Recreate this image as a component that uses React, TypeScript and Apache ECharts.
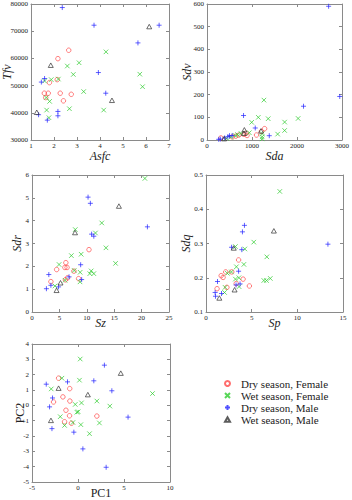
import React, { useEffect, useRef } from "react";
import * as echarts from "echarts";

// ---- Data ----
const groupNames = ["Dry season, Female", "Wet season, Female", "Dry season, Male", "Wet season, Male"];

// Panel 1: Asfc (x) vs Tfv (y)
const asfcTfvDryFemale = [[2.17, 59900], [2.64, 63000], [1.8, 51100], [2.14, 52200], [1.58, 47200], [1.75, 47200], [2.27, 47200], [2.75, 46800], [1.64, 45600], [2.41, 44400]];
const asfcTfvWetFemale = [[4.26, 62400], [2.58, 57200], [3.09, 58400], [2.84, 54100], [1.59, 51700], [1.88, 52200], [2.19, 52400], [3.29, 47800], [1.66, 45600], [1.81, 44200], [2.67, 41500], [4.16, 41000], [1.68, 41000], [1.78, 38200], [5.73, 54200], [5.85, 49600]];
const asfcTfvDryMale = [[2.36, 78700], [3.74, 72200], [6.57, 72200], [5.65, 65700], [3.93, 54800], [1.59, 52600], [1.45, 51300], [4.25, 47200], [1.33, 39300], [2.17, 40500], [2.17, 38900], [1.71, 37300]];
const asfcTfvWetMale = [[1.86, 57500], [6.14, 71700], [4.52, 44600], [1.25, 40200]];

// Panel 2: Sda (x) vs Sdv (y)
const sdaSdvDryFemale = [[1280, 50], [1210, 38], [1100, 22], [870, 30], [890, 20], [710, 22], [560, 14], [640, 17], [310, 9], [820, 25]];
const sdaSdvWetFemale = [[1265, 176], [1140, 100], [1360, 94], [2025, 95], [993, 78], [1725, 79], [1725, 42], [1570, 26], [1225, 28], [1225, 14], [940, 32], [755, 29], [625, 20], [435, 7], [680, 24], [1225, 5], [530, 12]];
const sdaSdvDryMale = [[2703, 590], [2950, 192], [2145, 149], [812, 108], [1072, 53], [1384, 19], [464, 15], [500, 19], [391, 9], [261, 3], [297, 4], [560, 20]];
const sdaSdvWetMale = [[1200, 40], [830, 45], [820, 30], [380, 6]];

// Panel 3: Sz (x) vs Sdr (y)
const szSdrDryFemale = [[10.4, 2.73], [6.18, 2.16], [6.0, 1.95], [6.4, 1.95], [4.5, 1.86], [7.65, 1.79], [6.5, 1.5], [8.5, 1.46], [6.1, 1.41], [3.45, 1.33]];
const szSdrWetFemale = [[20.6, 5.85], [12.73, 3.9], [7.9, 3.61], [11.58, 3.46], [13.5, 2.81], [8.97, 2.53], [7.18, 2.47], [15.25, 2.13], [4.94, 2.08], [7.7, 1.82], [8.79, 1.74], [10.8, 1.8], [10.55, 1.68], [11.28, 1.68], [6.03, 1.39], [8.76, 1.32], [4.19, 1.14]];
const szSdrDryMale = [[10.23, 5.03], [10.65, 4.76], [21.06, 3.73], [10.88, 3.41], [11.28, 3.32], [8.88, 2.07], [3.07, 1.64], [6.76, 1.54], [9.06, 1.42], [3.45, 1.17], [4.85, 1.1], [2.63, 1.02]];
const szSdrWetMale = [[15.86, 4.64], [7.85, 3.48], [5.2, 1.28], [4.48, 0.95]];

// Panel 4: Sp (x) vs Sdq (y)
const spSdqDryFemale = [[3.57, 0.252], [2.16, 0.217], [2.82, 0.217], [1.66, 0.206], [1.87, 0.201], [4.06, 0.196], [3.31, 0.183], [4.75, 0.176], [2.29, 0.172], [1.21, 0.168]];
const spSdqWetFemale = [[8.08, 0.452], [5.23, 0.304], [3.22, 0.291], [4.25, 0.284], [6.66, 0.261], [4.15, 0.239], [3.33, 0.232], [2.78, 0.217], [2.34, 0.213], [3.6, 0.2], [3.22, 0.196], [6.33, 0.192], [6.62, 0.192], [7.04, 0.198], [3.62, 0.174], [2.09, 0.172], [2.03, 0.157]];
const spSdqDryMale = [[4.21, 0.353], [3.99, 0.334], [13.35, 0.298], [2.8, 0.289], [3.92, 0.282], [3.57, 0.219], [1.26, 0.189], [3.29, 0.179], [3.73, 0.182], [1.0, 0.157], [1.7, 0.154], [1.04, 0.146]];
const spSdqWetMale = [[7.43, 0.337], [3.04, 0.287], [3.13, 0.165], [1.46, 0.141]];

// Panel 5: PC1 (x) vs PC2 (y)
const pcDryFemale = [[-2.11, 1.77], [-0.9, 1.09], [-1.64, 0.55], [-0.88, 0.28], [-2.66, 0.22], [-1.31, -0.32], [-0.92, -0.68], [2.05, -0.7], [-1.46, -1.07], [-0.72, -1.17]];
const pcWetFemale = [[0.24, 3.02], [-1.75, 1.77], [0.16, 1.64], [-2.91, 1.07], [8.1, 0.77], [2.05, 0.28], [0.38, 0.16], [-0.3, 0.06], [3.46, -0.05], [-0.12, -0.45], [0.02, -0.42], [-1.93, -0.74], [-0.55, -1.12], [2.33, -1.15], [-1.46, -1.31], [0.31, -1.26], [1.25, -1.85]];
const pcDryMale = [[2.87, 2.62], [-1.14, 1.53], [1.72, 1.6], [-3.45, 1.38], [3.68, 0.95], [-2.77, 0.48], [-3.09, -0.1], [5.44, -0.77], [-2.83, -1.52], [-0.45, -1.75], [0.53, -2.84], [3.06, -4.04]];
const pcWetMale = [[4.65, 2.1], [-2.11, 1.12], [1.07, 0.7], [-2.94, -0.98]];

// Axis ranges / tick intervals
const xRanges = [[1, 7, 1], [0, 3000, 1000], [0, 25, 5], [0, 15, 5], [-5, 10, 5]];
const yRanges = [[30000, 80000, 10000], [0, 600, 100], [0, 6, 1], [0.1, 0.5, 0.1], [-5, 4, 1]];
const xNames = ["Asfc", "Sda", "Sz", "Sp", "PC1"];
const yNames = ["Tfv", "Sdv", "Sdr", "Sdq", "PC2"];

const panelData = [
  [asfcTfvDryFemale, asfcTfvWetFemale, asfcTfvDryMale, asfcTfvWetMale],
  [sdaSdvDryFemale, sdaSdvWetFemale, sdaSdvDryMale, sdaSdvWetMale],
  [szSdrDryFemale, szSdrWetFemale, szSdrDryMale, szSdrWetMale],
  [spSdqDryFemale, spSdqWetFemale, spSdqDryMale, spSdqWetMale],
  [pcDryFemale, pcWetFemale, pcDryMale, pcWetMale],
];

// ---- Layout / style ----
const grids = [
  { left: 31, top: 4, width: 138, height: 136 },
  { left: 207, top: 4, width: 138, height: 136 },
  { left: 32, top: 175, width: 137, height: 137 },
  { left: 206, top: 175, width: 137, height: 137 },
  { left: 32, top: 344, width: 138, height: 138 },
];
const xNameGaps = [10, 10, 5, 5, 5];
const yNameGaps = [18, 14, 9, 14, 6];
const SERIF = "Liberation Serif";
const FRAME = "#8a8a8a";

const groupStyles = [
  { symbol: "circle", symbolSize: 4.5, itemStyle: { color: "rgba(0,0,0,0)", borderColor: "#ff4a4a", borderWidth: 0.9 } },
  { symbol: "path://M0,0L10,10M10,0L0,10", symbolSize: 4.5, itemStyle: { color: "rgba(0,0,0,0)", borderColor: "#2ecc2e", borderWidth: 0.9 } },
  { symbol: "path://M5,0L5,10M0,5L10,5", symbolSize: 5, itemStyle: { color: "rgba(0,0,0,0)", borderColor: "#2424ff", borderWidth: 0.9 } },
  { symbol: "path://M5,0L10,9L0,9Z", symbolSize: [5, 4.5], itemStyle: { color: "rgba(0,0,0,0)", borderColor: "#333333", borderWidth: 0.9 } },
];

function fmt(v: number) {
  return String(Math.round(v * 1e6) / 1e6);
}

function makeAxis(gi: number, kind: "x" | "y", main: boolean) {
  const r = kind === "x" ? xRanges[gi] : yRanges[gi];
  const italic = gi < 4;
  const base: any = {
    gridIndex: gi,
    type: "value",
    min: r[0],
    max: r[1],
    interval: r[2],
    position: kind === "x" ? (main ? "bottom" : "top") : main ? "left" : "right",
    axisLine: { show: true, onZero: false, lineStyle: { color: FRAME, width: 1 } },
    axisTick: { show: true, inside: true, length: 3, lineStyle: { color: FRAME } },
    axisLabel: { show: main, fontSize: 7, fontFamily: SERIF, color: "#222", margin: kind === "x" ? 2 : 3, formatter: fmt },
    splitLine: { show: false },
  };
  if (main) {
    base.name = kind === "x" ? xNames[gi] : yNames[gi];
    base.nameLocation = "middle";
    base.nameGap = kind === "x" ? xNameGaps[gi] : yNameGaps[gi];
    base.nameMoveOverlap = false;
    base.nameTextStyle = { fontSize: 12, fontFamily: SERIF, fontStyle: italic ? "italic" : "normal", color: "#222" };
  }
  return base;
}

export default function App() {
  const ref = useRef<HTMLDivElement>(null);
  useEffect(() => {
    if (!ref.current) return;
    const chart = echarts.init(ref.current, undefined, { renderer: "svg" });
    const xAxis: any[] = [];
    const yAxis: any[] = [];
    const series: any[] = [];
    grids.forEach((_, gi) => {
      xAxis.push(makeAxis(gi, "x", true), makeAxis(gi, "x", false));
      yAxis.push(makeAxis(gi, "y", true), makeAxis(gi, "y", false));
      panelData[gi].forEach((d, k) => {
        series.push({
          type: "scatter",
          name: groupNames[k],
          xAxisIndex: gi * 2,
          yAxisIndex: gi * 2,
          data: d,
          ...groupStyles[k],
        });
      });
    });
    chart.setOption({
      animation: false,
      backgroundColor: "#ffffff",
      textStyle: { fontFamily: SERIF },
      grid: grids.map((g) => ({ ...g, containLabel: false })),
      xAxis,
      yAxis,
      legend: {
        data: groupNames,
        orient: "vertical",
        left: 224,
        top: 378,
        padding: 0,
        itemWidth: 5,
        itemHeight: 5,
        itemGap: 1,
        textStyle: { fontSize: 11, fontFamily: SERIF, color: "#222", lineHeight: 11, padding: [0, 0, 0, 6] },
      },
      series,
    });
    return () => chart.dispose();
  }, []);
  return <div ref={ref} style={{ position: "absolute", left: 0, top: 0, width: 352, height: 500 }} />;
}
